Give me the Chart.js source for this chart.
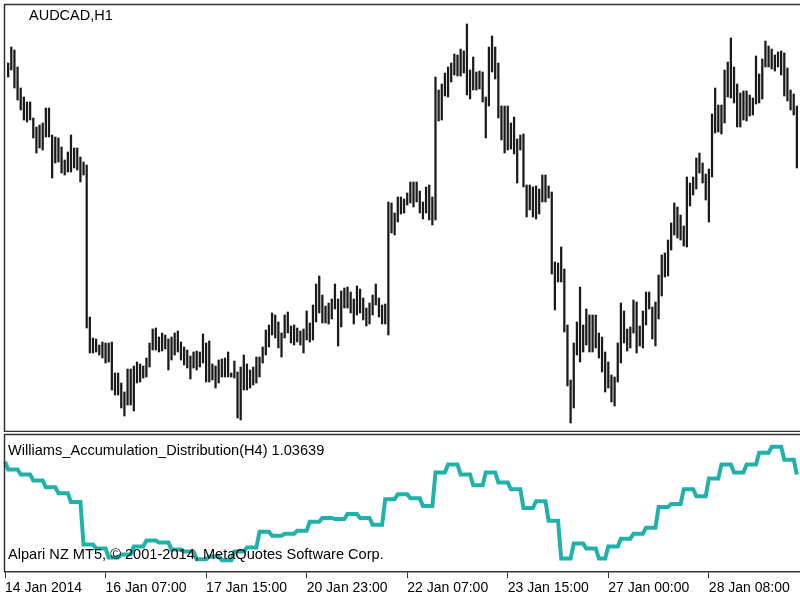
<!DOCTYPE html>
<html>
<head>
<meta charset="utf-8">
<script src="https://cdn.jsdelivr.net/npm/chart.js@4.4.0/dist/chart.umd.min.js"></script>
<style>
  html, body { margin: 0; padding: 0; background: #fff; }
  #wrap { position: relative; width: 800px; height: 600px; overflow: hidden; }
  #priceBox { position: absolute; left: 0; top: 0; width: 800px; height: 432px; }
  #wadBox { position: absolute; left: 0; top: 432px; width: 800px; height: 168px; }
</style>
</head>
<body>
<div id="wrap">
  <div id="priceBox"><canvas id="priceChart" width="800" height="432"></canvas></div>
  <div id="wadBox"><canvas id="wadChart" width="800" height="168"></canvas></div>
</div>
<script>
// AUDCAD H1 bars, first one (14 Jan 23:00) sits under the frame
const highs = [
  null,
  0.9937, 0.9953, 0.9950, 0.9933, 0.9912, 0.9903, 0.9898, 0.9898, 0.9882, 0.9873,
  0.9875, 0.9877, 0.9892, 0.9892, 0.9865, 0.9863, 0.9862, 0.9853, 0.9840, 0.9848,
  0.9865, 0.9852, 0.9852, 0.9843, 0.9838, 0.9835, 0.9683, 0.9662, 0.9661, 0.9655,
  0.9658, 0.9657, 0.9657, 0.9658, 0.9627, 0.9627, 0.9617, 0.9608, 0.9631, 0.9631,
  0.9634, 0.9638, 0.9636, 0.9634, 0.9642, 0.9657, 0.9671, 0.9672, 0.9663, 0.9667,
  0.9665, 0.9661, 0.9663, 0.9667, 0.9669, 0.9658, 0.9653, 0.9650, 0.9644, 0.9648,
  0.9649, 0.9648, 0.9666, 0.9657, 0.9659, 0.9636, 0.9634, 0.9640, 0.9641, 0.9642,
  0.9648, 0.9627, 0.9639, 0.9628, 0.9633, 0.9645, 0.9636, 0.9630, 0.9633, 0.9643,
  0.9643, 0.9653, 0.9670, 0.9675, 0.9687, 0.9685, 0.9678, 0.9667, 0.9685, 0.9688,
  0.9674, 0.9675, 0.9672, 0.9669, 0.9671, 0.9689, 0.9677, 0.9695, 0.9716, 0.9724,
  0.9705, 0.9694, 0.9697, 0.9701, 0.9716, 0.9701, 0.9709, 0.9712, 0.9713, 0.9708,
  0.9701, 0.9714, 0.9711, 0.9702, 0.9692, 0.9697, 0.9705, 0.9716, 0.9702, 0.9695,
  0.9696, 0.9798, 0.9797, 0.9787, 0.9803, 0.9803, 0.9801, 0.9807, 0.9818, 0.9818,
  0.9818, 0.9809, 0.9798, 0.9813, 0.9815, 0.9803, 0.9923, 0.9910, 0.9916, 0.9927,
  0.9933, 0.9937, 0.9946, 0.9945, 0.9951, 0.9949, 0.9976, 0.9930, 0.9943, 0.9928,
  0.9929, 0.9928, 0.9903, 0.9953, 0.9964, 0.9953, 0.9937, 0.9894, 0.9894, 0.9894,
  0.9877, 0.9883, 0.9861, 0.9865, 0.9866, 0.9815, 0.9815, 0.9813, 0.9814, 0.9811,
  0.9825, 0.9825, 0.9814, 0.9808, 0.9738, 0.9737, 0.9753, 0.9731, 0.9675, 0.9620,
  0.9657, 0.9678, 0.9713, 0.9675, 0.9691, 0.9685, 0.9685, 0.9685, 0.9667, 0.9663,
  0.9648, 0.9638, 0.9625, 0.9623, 0.9657, 0.9697, 0.9689, 0.9671, 0.9673, 0.9700,
  0.9698, 0.9674, 0.9689, 0.9708, 0.9708, 0.9693, 0.9698, 0.9725, 0.9745, 0.9747,
  0.9760, 0.9777, 0.9797, 0.9793, 0.9785, 0.9774, 0.9823, 0.9817, 0.9823, 0.9842,
  0.9847, 0.9837, 0.9826, 0.9831, 0.9886, 0.9912, 0.9895, 0.9895, 0.9930, 0.9938,
  0.9962, 0.9933, 0.9916, 0.9907, 0.9909, 0.9909, 0.9905, 0.9902, 0.9944, 0.9926,
  0.9941, 0.9959, 0.9954, 0.9951, 0.9945, 0.9948, 0.9949, 0.9947, 0.9932, 0.9910,
  0.9906, 0.9894
];
const lows = [
  null,
  0.9923, 0.9930, 0.9912, 0.9900, 0.9890, 0.9880, 0.9878, 0.9880, 0.9862, 0.9847,
  0.9852, 0.9850, 0.9863, 0.9863, 0.9822, 0.9837, 0.9838, 0.9827, 0.9825, 0.9828,
  0.9828, 0.9832, 0.9830, 0.9818, 0.9825, 0.9672, 0.9647, 0.9647, 0.9648, 0.9645,
  0.9642, 0.9637, 0.9638, 0.9610, 0.9605, 0.9605, 0.9592, 0.9584, 0.9595, 0.9595,
  0.9589, 0.9617, 0.9618, 0.9622, 0.9623, 0.9633, 0.9650, 0.9650, 0.9648, 0.9649,
  0.9651, 0.9630, 0.9640, 0.9645, 0.9648, 0.9640, 0.9635, 0.9632, 0.9621, 0.9632,
  0.9630, 0.9633, 0.9637, 0.9618, 0.9618, 0.9620, 0.9612, 0.9617, 0.9623, 0.9623,
  0.9623, 0.9623, 0.9622, 0.9582, 0.9580, 0.9610, 0.9610, 0.9612, 0.9615, 0.9617,
  0.9623, 0.9637, 0.9645, 0.9653, 0.9665, 0.9662, 0.9652, 0.9643, 0.9662, 0.9667,
  0.9657, 0.9655, 0.9658, 0.9655, 0.9647, 0.9660, 0.9658, 0.9660, 0.9678, 0.9687,
  0.9677, 0.9677, 0.9676, 0.9681, 0.9691, 0.9654, 0.9673, 0.9692, 0.9692, 0.9687,
  0.9676, 0.9685, 0.9687, 0.9680, 0.9674, 0.9676, 0.9685, 0.9695, 0.9683, 0.9676,
  0.9676, 0.9665, 0.9767, 0.9765, 0.9778, 0.9786, 0.9787, 0.9795, 0.9797, 0.9793,
  0.9798, 0.9787, 0.9781, 0.9787, 0.9780, 0.9775, 0.9780, 0.9879, 0.9880, 0.9904,
  0.9903, 0.9918, 0.9925, 0.9924, 0.9924, 0.9927, 0.9905, 0.9901, 0.9910, 0.9910,
  0.9911, 0.9898, 0.9862, 0.9894, 0.9928, 0.9921, 0.9882, 0.9860, 0.9847, 0.9850,
  0.9851, 0.9846, 0.9817, 0.9850, 0.9813, 0.9783, 0.9790, 0.9783, 0.9781, 0.9786,
  0.9798, 0.9798, 0.9802, 0.9726, 0.9690, 0.9718, 0.9718, 0.9668, 0.9614, 0.9577,
  0.9592, 0.9645, 0.9638, 0.9648, 0.9655, 0.9648, 0.9648, 0.9652, 0.9642, 0.9628,
  0.9608, 0.9612, 0.9598, 0.9594, 0.9618, 0.9637, 0.9657, 0.9649, 0.9652, 0.9667,
  0.9647, 0.9654, 0.9652, 0.9675, 0.9691, 0.9661, 0.9654, 0.9681, 0.9704, 0.9723,
  0.9724, 0.9750, 0.9765, 0.9762, 0.9760, 0.9754, 0.9753, 0.9794, 0.9805, 0.9811,
  0.9827, 0.9817, 0.9800, 0.9778, 0.9823, 0.9867, 0.9868, 0.9866, 0.9877, 0.9903,
  0.9902, 0.9897, 0.9873, 0.9873, 0.9880, 0.9879, 0.9884, 0.9885, 0.9896, 0.9897,
  0.9901, 0.9933, 0.9933, 0.9931, 0.9929, 0.9933, 0.9925, 0.9904, 0.9899, 0.9890,
  0.9885, 0.9832
];

// Williams A/D taken from the H4 timeframe, one value per H4 bar
const wadH4 = [
  1.0416, 1.0384, 1.0364, 1.0340, 1.0312, 1.0288, 1.0252, 1.0080, 1.0064, 1.0028,
  1.0040, 1.0072, 1.0096, 1.0088, 1.0060, 1.0052, 1.0020, 1.0032, 1.0016, 1.0052,
  1.0068, 1.0132, 1.0116, 1.0124, 1.0136, 1.0172, 1.0188, 1.0184, 1.0204, 1.0188,
  1.0160, 1.0264, 1.0284, 1.0268, 1.0236, 1.0372, 1.0404, 1.0364, 1.0320, 1.0372,
  1.0332, 1.0304, 1.0228, 1.0256, 1.0176, 1.0024, 1.0084, 1.0064, 1.0024, 1.0072,
  1.0104, 1.0124, 1.0148, 1.0232, 1.0244, 1.0304, 1.0276, 1.0348, 1.0404, 1.0372,
  1.0404, 1.0452, 1.0476, 1.0424, 1.0364
];

// time axis labels and the H1 bar they belong to
const tickIndex = [0, 32, 64, 96, 128, 160, 192, 224];
const tickLabels = [
  '14 Jan 2014', '16 Jan 07:00', '17 Jan 15:00', '20 Jan 23:00',
  '22 Jan 07:00', '23 Jan 15:00', '27 Jan 00:00', '28 Jan 08:00'
];
const mondayBar = 192;  // 27 Jan 00:00, H4 blocks restart here

// one extra empty slot so the last bar is not on the right edge
const labels = Array(highs.length + 1).fill('');
tickIndex.forEach((idx, k) => { labels[idx] = tickLabels[k]; });

// which H4 bar each H1 bar falls into
const h4Of = (i) => i < mondayBar ? Math.floor((i + 3) / 4)
                                  : 49 + Math.floor((i - mondayBar) / 4);

const font = '"Liberation Sans", Arial, sans-serif';

// frame + caption for the price window
const priceFrame = {
  id: 'priceFrame',
  afterDraw(chart) {
    const {ctx, chartArea} = chart;
    ctx.save();
    ctx.strokeStyle = '#333';
    ctx.lineWidth = 1.5;
    ctx.beginPath();
    ctx.moveTo(chartArea.right, 4.5);
    ctx.lineTo(4.5, 4.5);
    ctx.lineTo(4.5, chart.height - 0.5);
    ctx.lineTo(chartArea.right, chart.height - 0.5);
    ctx.stroke();
    ctx.fillStyle = '#000';
    ctx.font = '14.5px ' + font;
    ctx.textBaseline = 'middle';
    ctx.fillText('AUDCAD,H1', 29, 16);
    ctx.restore();
  }
};

const wadFrame = {
  id: 'wadFrame',
  afterDraw(chart) {
    const {ctx, chartArea} = chart;
    ctx.save();
    ctx.strokeStyle = '#333';
    ctx.lineWidth = 1.5;
    ctx.beginPath();
    ctx.moveTo(chartArea.right, 2.5);
    ctx.lineTo(4.5, 2.5);
    ctx.lineTo(4.5, chartArea.bottom);
    ctx.stroke();
    ctx.fillStyle = '#000';
    ctx.font = '14.6px ' + font;
    ctx.textBaseline = 'middle';
    ctx.fillText('Williams_Accumulation_Distribution(H4) 1.03639', 8, 19);
    ctx.fillText('Alpari NZ MT5, \u00a9 2001-2014, MetaQuotes Software Corp.', 8, 123);
    ctx.restore();
  }
};

new Chart(document.getElementById('priceChart'), {
  type: 'bar',
  data: {
    labels: labels,
    datasets: [{
      data: lows.map((l, i) => l === null ? null : [l, highs[i]]),
      backgroundColor: '#1a1a1a',
      borderWidth: 0,
      barThickness: 1.6
    }]
  },
  options: {
    responsive: false,
    animation: false,
    layout: {padding: {left: 5, top: 5, right: 0, bottom: 0}},
    plugins: {legend: {display: false}, tooltip: {enabled: false}},
    scales: {
      x: {type: 'category', offset: false, display: false},
      y: {display: false, min: 0.9568, max: 0.9995}
    }
  },
  plugins: [priceFrame]
});

new Chart(document.getElementById('wadChart'), {
  type: 'line',
  data: {
    labels: labels,
    datasets: [{
      data: highs.map((_, i) => wadH4[h4Of(i)]),
      borderColor: '#20B2AA',
      borderWidth: 4,
      pointRadius: 0,
      tension: 0,
      fill: false
    }]
  },
  options: {
    responsive: false,
    animation: false,
    layout: {padding: {left: 5, top: 3, right: 0, bottom: 1}},
    plugins: {legend: {display: false}, tooltip: {enabled: false}},
    scales: {
      x: {
        type: 'category',
        offset: false,
        afterBuildTicks: (scale) => {
          scale.ticks = tickIndex.map(v => ({value: v}));
        },
        ticks: {
          autoSkip: false,
          maxRotation: 0,
          align: 'start',
          padding: 2,
          color: '#000',
          font: {family: font, size: 14}
        },
        grid: {drawOnChartArea: false, tickLength: 6, color: '#333'},
        border: {color: '#333', width: 1.5}
      },
      y: {display: false, min: 0.9968, max: 1.0524}
    }
  },
  plugins: [wadFrame]
});
</script>
</body>
</html>
